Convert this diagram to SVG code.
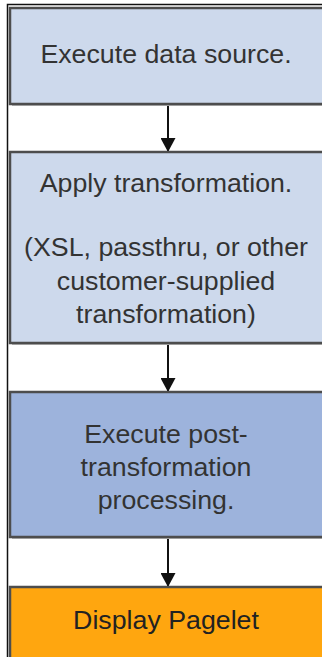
<svg xmlns="http://www.w3.org/2000/svg" width="322" height="657" viewBox="0 0 322 657">
<style>
.box{stroke:#4d4d4d;stroke-width:2.5}
.sh{fill:#b8b8b8}
.t{font-family:"Liberation Sans",Arial,sans-serif;font-size:25px;fill:#333;text-anchor:middle}
.conn{stroke:#111;stroke-width:2;fill:none}
</style>
<defs>
<marker id="ah" markerWidth="14" markerHeight="15" refX="13" refY="7.5" orient="auto" markerUnits="userSpaceOnUse">
<path d="M0,0 L14,7.5 L0,15 z" fill="#111"/>
</marker>
</defs>
<rect width="322" height="657" fill="#fff"/>
<path d="M7.5,657 V4.5 H322" stroke="#111" stroke-width="1.5" fill="none"/>
<g id="connectors">
<line class="conn" x1="168" y1="105" x2="168" y2="151" marker-end="url(#ah)"/>
<line class="conn" x1="168" y1="344" x2="168" y2="391" marker-end="url(#ah)"/>
<line class="conn" x1="168" y1="538" x2="168" y2="586" marker-end="url(#ah)"/>
</g>
<g id="n1">
<rect class="sh" x="12" y="10" width="320" height="96"/>
<rect class="box" x="10" y="8" width="320" height="96" fill="#cdd9ec"/>
<g transform="translate(166,0) scale(1.07,1)">
<text class="t" x="0" y="63">Execute data source.</text>
</g>
</g>
<g id="n2">
<rect class="sh" x="12" y="154" width="320" height="191"/>
<rect class="box" x="10" y="152" width="320" height="191" fill="#cdd9ec"/>
<g transform="translate(166,0) scale(1.07,1)">
<text class="t" x="0" y="192">Apply transformation.</text>
<text class="t" x="0" y="256">(XSL, passthru, or other</text>
<text class="t" x="0" y="290">customer-supplied</text>
<text class="t" x="0" y="323">transformation)</text>
</g>
</g>
<g id="n3">
<rect class="sh" x="12" y="394" width="320" height="145"/>
<rect class="box" x="10" y="392" width="320" height="145" fill="#9db3dc"/>
<g transform="translate(166,0) scale(1.07,1)">
<text class="t" x="0" y="443">Execute post-</text>
<text class="t" x="0" y="476">transformation</text>
<text class="t" x="0" y="509">processing.</text>
</g>
</g>
<g id="n4">
<rect class="sh" x="12" y="589" width="320" height="80"/>
<rect class="box" x="10" y="587" width="320" height="80" fill="#ffa60f"/>
<g transform="translate(166,0) scale(1.07,1)">
<text class="t" x="0" y="629" style="fill:#222">Display Pagelet</text>
</g>
</g>
</svg>
